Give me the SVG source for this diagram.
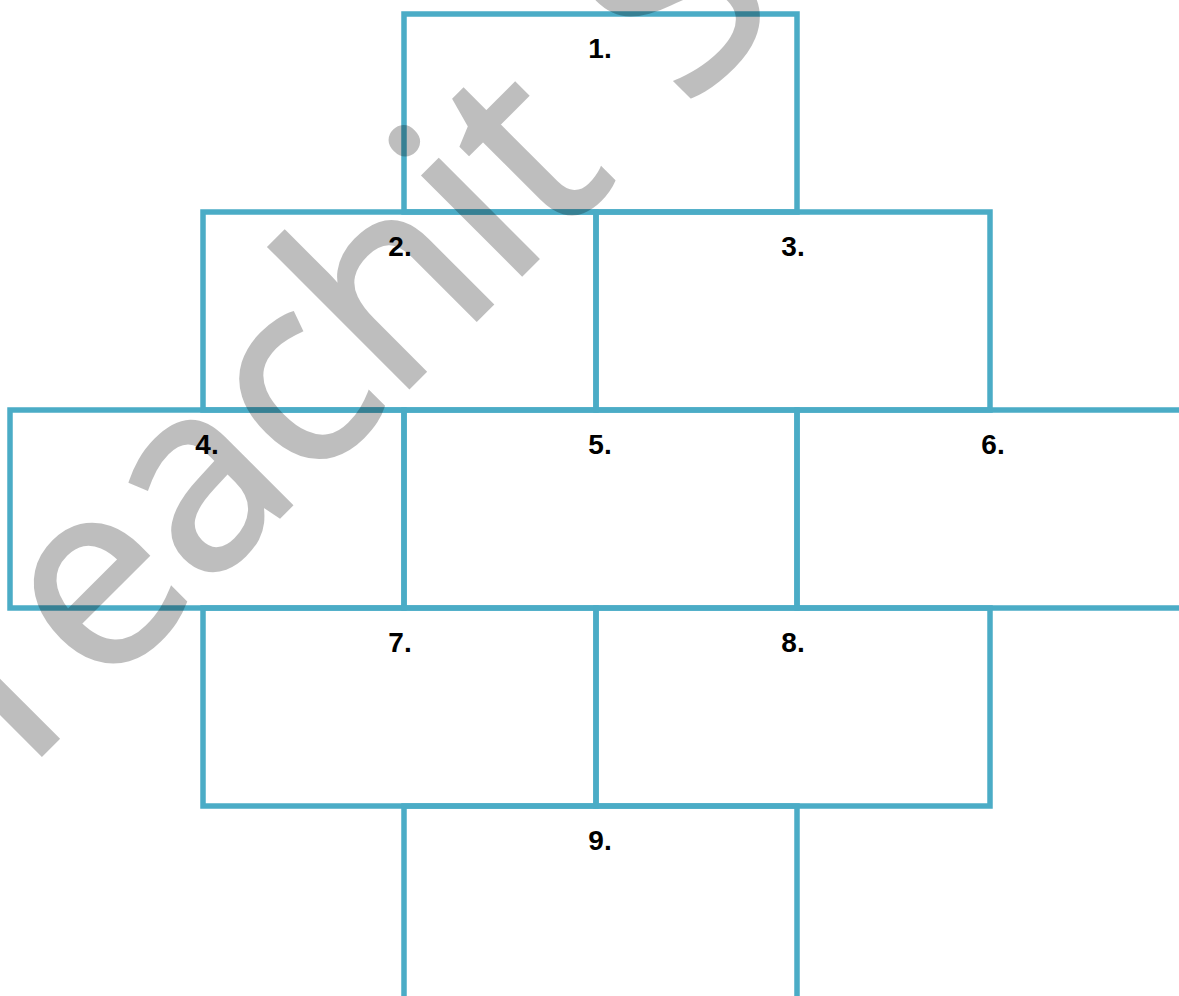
<svg xmlns="http://www.w3.org/2000/svg" width="1179" height="996" viewBox="0 0 1179 996">
<style>
.box{fill:none;stroke:#4BACC6;stroke-width:5.5}
.lbl{font-family:"Liberation Sans",Arial,sans-serif;font-weight:bold;font-size:28px;fill:#000;text-anchor:middle}
.wm{font-family:"Open Sans","DejaVu Sans",sans-serif;font-size:260px;fill:#000;stroke:#000;stroke-width:4;word-spacing:28px}
</style>
<rect width="1179" height="996" fill="#fff"/>
<g id="n1"><rect class="box" x="404" y="14" width="393" height="198"/><text class="lbl" x="600" y="58">1.</text></g>
<g id="n2"><rect class="box" x="203" y="212" width="393" height="198"/><text class="lbl" x="400" y="256">2.</text></g>
<g id="n3"><rect class="box" x="596" y="212" width="394" height="198"/><text class="lbl" x="793" y="256">3.</text></g>
<g id="n4"><rect class="box" x="10" y="410" width="394" height="198"/><text class="lbl" x="207" y="454">4.</text></g>
<g id="n5"><rect class="box" x="404" y="410" width="393" height="198"/><text class="lbl" x="600" y="454">5.</text></g>
<g id="n6"><path class="box" d="M1182 410H797V608H1182"/><text class="lbl" x="993" y="454">6.</text></g>
<g id="n7"><rect class="box" x="203" y="608" width="393" height="198"/><text class="lbl" x="400" y="652">7.</text></g>
<g id="n8"><rect class="box" x="596" y="608" width="394" height="198"/><text class="lbl" x="793" y="652">8.</text></g>
<g id="n9"><path class="box" d="M404 1000V806H797V1000"/><text class="lbl" x="600" y="850">9.</text></g>
<g id="connectors"></g>
<g id="watermark" opacity="0.25"><text class="wm" transform="translate(-1 797) rotate(-45)" x="0" y="0">Teachit S</text></g>
</svg>
